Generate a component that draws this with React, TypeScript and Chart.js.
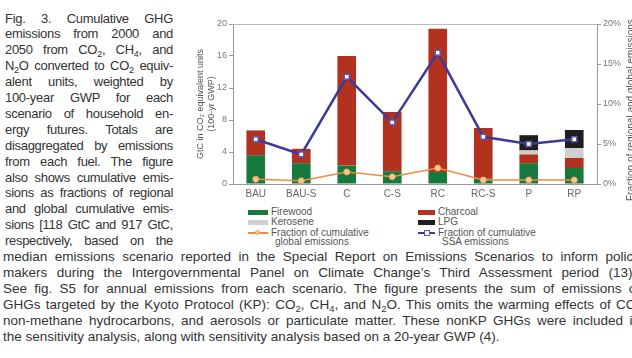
import React, { useEffect, useRef } from "react";
import { Chart, registerables } from "chart.js";
Chart.register(...registerables);

const categories = ["BAU", "BAU-S", "C", "C-S", "RC", "RC-S", "P", "RP"];
const firewood = [3.6, 2.6, 2.3, 1.6, 1.5, 0.7, 2.6, 2.0];
const charcoal = [3.1, 1.8, 13.7, 7.4, 17.9, 6.3, 1.1, 1.25];
const kerosene = [0, 0, 0, 0, 0, 0, 0.5, 1.25];
const lpg = [0, 0, 0, 0, 0, 0, 1.9, 2.25];
const ssaFraction = [5.6, 3.7, 13.4, 7.7, 16.4, 5.9, 5.0, 5.6];
const globalFraction = [0.6, 0.4, 1.5, 0.9, 2.0, 0.5, 0.5, 0.5];
const leftTicks = [0, 4, 8, 12, 16, 20];
const rightTicks = [0, 5, 10, 15, 20];

const sideLines = [
  "Fig. 3. Cumulative GHG",
  "emissions from 2000 and",
  "2050 from CO_{2}, CH_{4}, and",
  "N_{2}O converted to CO_{2} equiv-",
  "alent units, weighted by",
  "100-year GWP for each",
  "scenario of household en-",
  "ergy futures. Totals are",
  "disaggregated by emissions",
  "from each fuel. The figure",
  "also shows cumulative emis-",
  "sions as fractions of regional",
  "and global cumulative emis-",
  "sions [118 GtC and 917 GtC,",
  "respectively, based on the",
];
const bottomLines = [
  "median emissions scenario reported in the Special Report on Emissions Scenarios to inform policy",
  "makers during the Intergovernmental Panel on Climate Change\u2019s Third Assessment period (13)].",
  "See fig. S5 for annual emissions from each scenario. The figure presents the sum of emissions of",
  "GHGs targeted by the Kyoto Protocol (KP): CO_{2}, CH_{4}, and N_{2}O. This omits the warming effects of CO,",
  "non-methane hydrocarbons, and aerosols or particulate matter. These nonKP GHGs were included in",
  "the sensitivity analysis, along with sensitivity analysis based on a 20-year GWP (4).",
];

function rich(s: string) {
  const parts = s.split(/_\{(.*?)\}/);
  return parts.map((p, i) =>
    i % 2 === 1 ? (
      <sub key={i} style={{ fontSize: "0.7em", verticalAlign: "-0.3em", lineHeight: 0 }}>{p}</sub>
    ) : (
      <React.Fragment key={i}>{p}</React.Fragment>
    )
  );
}

const LINE_Y0 = 18;
const LINE_DY = 15.9;

export default function App() {
  const ref = useRef<HTMLCanvasElement | null>(null);
  useEffect(() => {
    if (!ref.current) return;
    const frame = {
      id: "frame",
      afterDatasetsDraw(c: any) {
        const { ctx, chartArea } = c;
        ctx.save();
        ctx.strokeStyle = "#bbbbbb";
        ctx.lineWidth = 1;
        ctx.beginPath();
        ctx.moveTo(chartArea.left, chartArea.top + 0.5);
        ctx.lineTo(chartArea.right, chartArea.top + 0.5);
        ctx.stroke();
        ctx.restore();
      },
    };
    const tickFont = { family: "Liberation Sans", size: 9 };
    const chart = new Chart(ref.current, {
      type: "bar",
      data: {
        labels: categories,
        datasets: [
          {
            type: "line",
            label: "Fraction of cumulative SSA emissions",
            data: ssaFraction,
            yAxisID: "y1",
            borderColor: "#3c3c98",
            borderWidth: 2.5,
            pointStyle: "rect",
            pointRadius: 3.5,
            pointBackgroundColor: "#ffffff",
            pointBorderColor: "#5a5ab0",
            pointBorderWidth: 1.5,
            order: 0,
          },
          {
            type: "line",
            label: "Fraction of cumulative global emissions",
            data: globalFraction,
            yAxisID: "y1",
            borderColor: "#f08a40",
            borderWidth: 1.5,
            pointRadius: 3,
            pointBackgroundColor: "#f7c796",
            pointBorderColor: "#f0a060",
            pointBorderWidth: 1,
            order: 0,
          },
          { label: "Firewood", data: firewood, backgroundColor: "#157a3c", stack: "s", order: 1 },
          { label: "Charcoal", data: charcoal, backgroundColor: "#b3321f", stack: "s", order: 1 },
          { label: "Kerosene", data: kerosene, backgroundColor: "#cfcfcf", stack: "s", order: 1 },
          { label: "LPG", data: lpg, backgroundColor: "#1e1e1e", stack: "s", order: 1 },
        ] as any,
      },
      options: {
        animation: false,
        responsive: false,
        maintainAspectRatio: false,
        devicePixelRatio: 1,
        layout: { padding: { top: 24, left: 0, right: 0, bottom: 0 } },
        plugins: { legend: { display: false }, tooltip: { enabled: false } },
        datasets: { bar: { categoryPercentage: 1, barPercentage: 0.41 } } as any,
        scales: {
          x: {
            stacked: true,
            grid: { display: false, drawTicks: false },
            border: { color: "#999999" },
            ticks: { color: "#666666", font: { family: "Liberation Sans", size: 10 }, padding: 4 },
            afterFit: (s: any) => {
              s.height = 16;
            },
          },
          y: {
            stacked: true,
            min: 0,
            max: 20,
            afterBuildTicks: (s: any) => {
              s.ticks = leftTicks.map((v) => ({ value: v }));
            },
            ticks: { color: "#777777", font: tickFont, padding: 2 },
            grid: { drawOnChartArea: false, tickLength: 4, color: "#999999" },
            border: { color: "#999999" },
            title: {
              display: true,
              text: ["GtC in CO\u2082 equivalent units", "(100-yr GWP)"],
              color: "#555555",
              font: { family: "Liberation Sans", size: 9 },
              padding: { top: 10, bottom: 0 },
            },
            afterFit: (s: any) => {
              s.width = 48;
            },
          },
          y1: {
            position: "right",
            min: 0,
            max: 20,
            afterBuildTicks: (s: any) => {
              s.ticks = rightTicks.map((v) => ({ value: v }));
            },
            ticks: { color: "#777777", font: tickFont, padding: 2, callback: (v: any) => v + "%" },
            grid: { drawOnChartArea: false, tickLength: 4, color: "#999999" },
            border: { color: "#999999" },
            afterFit: (s: any) => {
              s.width = 48;
            },
          },
        },
      } as any,
      plugins: [frame],
    });
    return () => chart.destroy();
  }, []);

  const textStyle: React.CSSProperties = {
    position: "absolute",
    fontFamily: "'Liberation Sans', Arial, sans-serif",
    fontSize: 13,
    letterSpacing: "-0.3px",
    lineHeight: "15px",
    color: "#333333",
    textAlign: "justify",
    textAlignLast: "justify" as any,
    height: 15,
  };

  const legendText: React.CSSProperties = {
    position: "absolute",
    fontFamily: "'Liberation Sans', Arial, sans-serif",
    fontSize: 10,
    lineHeight: "10px",
    color: "#555555",
    whiteSpace: "nowrap",
  };

  return (
    <div style={{ position: "relative", width: 632, height: 358, overflow: "hidden", background: "#fff" }}>
      <style>{"body{margin:0}"}</style>
      {sideLines.map((l, i) => (
        <div key={"s" + i} style={{ ...textStyle, left: 5, width: 168, top: LINE_Y0 + LINE_DY * i - 7.5 }}>
          {rich(l)}
        </div>
      ))}
      {bottomLines.map((l, i) => {
        const last = i === bottomLines.length - 1;
        return (
          <div
            key={"b" + i}
            style={{
              ...textStyle,
              fontSize: 13.5,
              letterSpacing: "0px",
              left: 3,
              width: last ? 700 : 637,
              textAlign: last ? "left" : "justify",
              textAlignLast: (last ? "left" : "justify") as any,
              top: LINE_Y0 + LINE_DY * (i + sideLines.length) - 7.5,
            }}
          >
            {rich(l)}
          </div>
        );
      })}
      <canvas
        ref={ref}
        width={460}
        height={200}
        style={{ position: "absolute", left: 185, top: 0, width: 460, height: 200 }}
      />
      <div
        style={{
          position: "absolute",
          left: 625,
          top: 10,
          height: 200,
          width: 12,
          writingMode: "vertical-rl",
          transform: "rotate(180deg)",
          fontFamily: "'Liberation Sans', Arial, sans-serif",
          fontSize: 10,
          color: "#555",
          textAlign: "center",
          whiteSpace: "nowrap",
        }}
      >
        Fraction of regional and global emissions
      </div>
      {/* legend */}
      <div style={{ position: "absolute", left: 248, top: 210, width: 20, height: 5, background: "#157a3c" }} />
      <div style={{ ...legendText, left: 271, top: 207 }}>Firewood</div>
      <div style={{ position: "absolute", left: 418, top: 210, width: 17, height: 5, background: "#b3321f" }} />
      <div style={{ ...legendText, left: 438, top: 207 }}>Charcoal</div>
      <div style={{ position: "absolute", left: 248, top: 220, width: 20, height: 5, background: "#cfcfcf" }} />
      <div style={{ ...legendText, left: 271, top: 217 }}>Kerosene</div>
      <div style={{ position: "absolute", left: 418, top: 220, width: 17, height: 5, background: "#1e1e1e" }} />
      <div style={{ ...legendText, left: 438, top: 217 }}>LPG</div>
      <div style={{ position: "absolute", left: 248, top: 232, width: 20, height: 1.5, background: "#f08a40" }} />
      <div
        style={{
          position: "absolute",
          left: 255,
          top: 230,
          width: 5,
          height: 5,
          borderRadius: 3,
          background: "#f7c796",
          border: "1px solid #f0a060",
          boxSizing: "border-box",
        }}
      />
      <div style={{ ...legendText, left: 271, top: 228 }}>Fraction of cumulative</div>
      <div style={{ ...legendText, left: 275, top: 237 }}>global emissions</div>
      <div style={{ position: "absolute", left: 418, top: 232, width: 17, height: 2, background: "#3c3c98" }} />
      <div
        style={{
          position: "absolute",
          left: 424,
          top: 230,
          width: 6,
          height: 6,
          background: "#fff",
          border: "1.5px solid #5a5ab0",
          boxSizing: "border-box",
        }}
      />
      <div style={{ ...legendText, left: 438, top: 228 }}>Fraction of cumulative</div>
      <div style={{ ...legendText, left: 442, top: 237 }}>SSA emissions</div>
    </div>
  );
}
